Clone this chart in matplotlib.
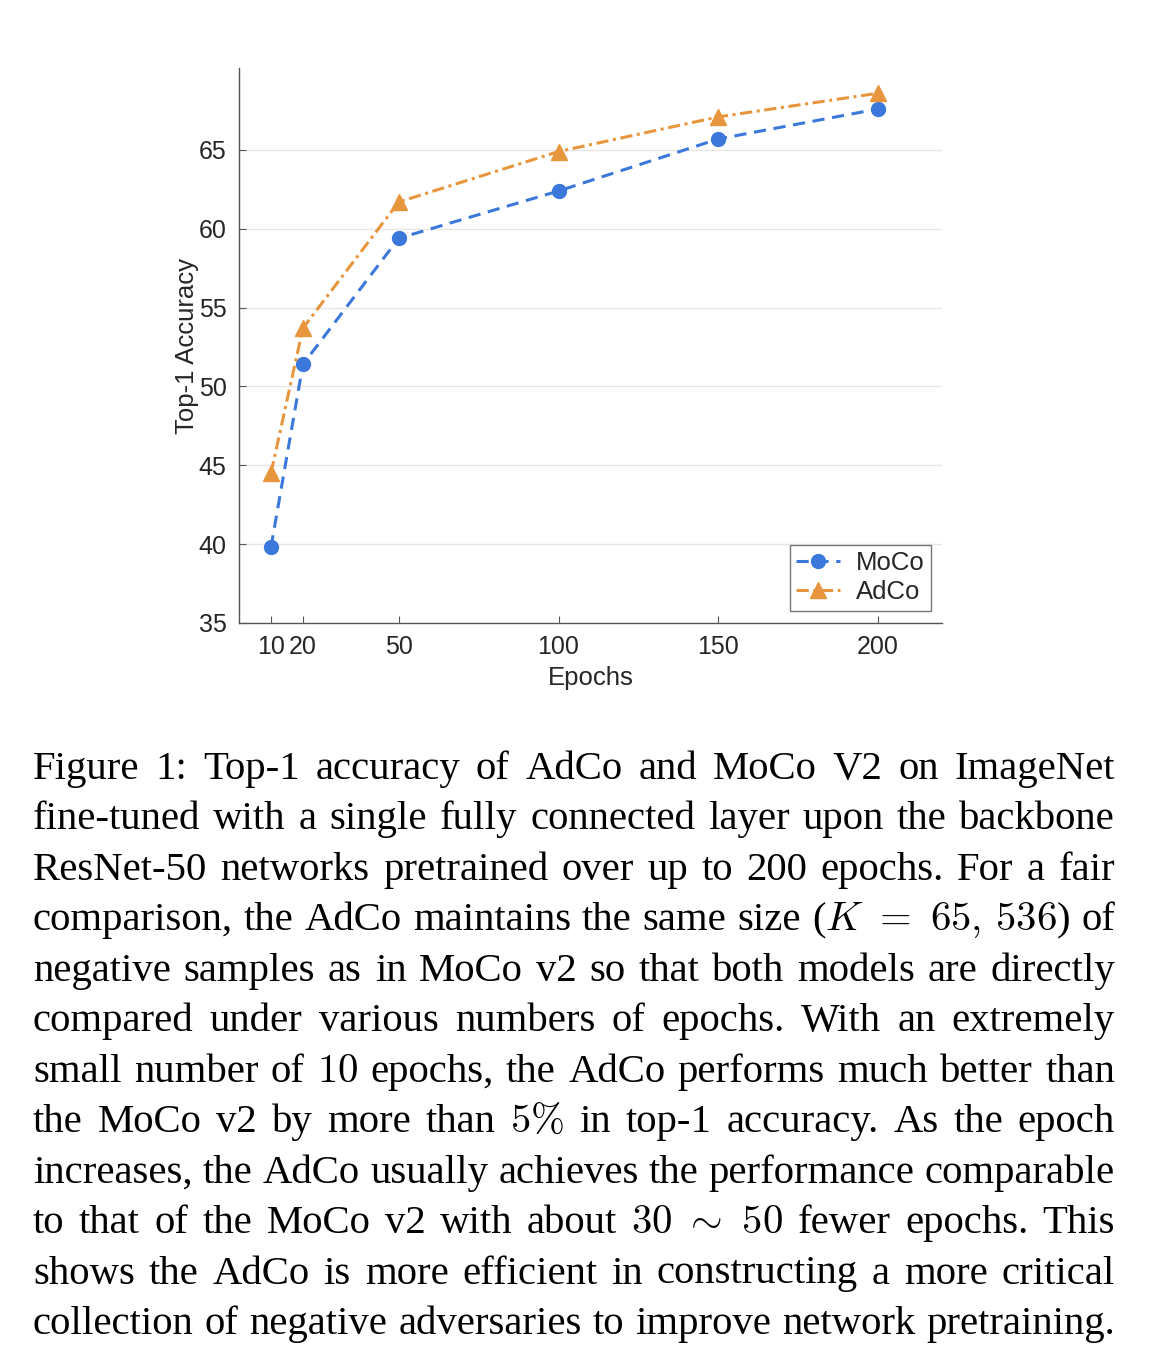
import re
import numpy as np
import matplotlib
matplotlib.use('Agg')
import matplotlib.pyplot as plt

blue = '#3B78DB'
orange = '#E8963D'

epochs = [10, 20, 50, 100, 150, 200]
moco = [39.8, 51.4, 59.4, 62.4, 65.7, 67.6]
adco = [44.5, 53.7, 61.7, 64.9, 67.1, 68.6]
yticks = [35, 40, 45, 50, 55, 60, 65]

caption = [
    "Figure 1:  Top-1 accuracy of AdCo and MoCo V2 on ImageNet",
    "fine-tuned with a single fully connected layer upon the backbone",
    "ResNet-50 networks pretrained over up to 200 epochs. For a fair",
    r"comparison, the AdCo maintains the same size ($K\ =\ 65,\,536$) of",
    "negative samples as in MoCo v2 so that both models are directly",
    "compared under various numbers of epochs.  With an extremely",
    r"small number of $10$ epochs, the AdCo performs much better than",
    r"the MoCo v2 by more than $5\%$ in top-1 accuracy.  As the epoch",
    "increases, the AdCo usually achieves the performance comparable",
    r"to that of the MoCo v2 with about $30\ \sim\ 50$ fewer epochs.  This",
    "shows the AdCo is more efficient in constructing a more critical",
    "collection of negative adversaries to improve network pretraining.",
]

plt.rcParams['mathtext.fontset'] = 'cm'
W, H = 1168, 1356
fig = plt.figure(figsize=(W / 100, H / 100), dpi=100)

# Chart
ax = fig.add_axes([239 / W, 1 - 623 / H, (942 - 239) / W, (623 - 68) / H])
sans = 'Liberation Sans'
ax.plot(epochs, moco, linestyle=(0, (4, 2.5)), color=blue, lw=2.2, marker='o', ms=10, label='MoCo')
ax.plot(epochs, adco, linestyle=(0, (4, 1.5, 1, 1.5)), color=orange, lw=2.2, marker='^', ms=11, label='AdCo')
ax.set_xlim(0, 220)
ax.set_ylim(35, 70.2)
ax.set_xticks(epochs)
ax.set_yticks(yticks)
ax.grid(axis='y', color='#e6e6e6', lw=1)
ax.set_axisbelow(True)
for s in ['top', 'right']:
    ax.spines[s].set_visible(False)
for s in ['left', 'bottom']:
    ax.spines[s].set_color('#555555')
    ax.spines[s].set_linewidth(1)
ax.tick_params(direction='in', length=5, color='#555555', labelsize=18, labelcolor='#262626', pad=9)
for lab in ax.get_xticklabels() + ax.get_yticklabels():
    lab.set_family(sans)
ax.set_xlabel('Epochs', family=sans, fontsize=18.5, color='#262626', labelpad=5)
ax.set_ylabel('Top-1 Accuracy', family=sans, fontsize=18.5, color='#262626', labelpad=0)
leg = ax.legend(loc='lower right', bbox_to_anchor=(0.984, 0.022), prop={'family': sans, 'size': 18.5},
                fancybox=False, edgecolor='#777777', framealpha=1, handlelength=1.7,
                borderpad=0.25, labelspacing=0.2, handletextpad=0.6, borderaxespad=0)
leg.get_frame().set_linewidth(1)
for t in leg.get_texts():
    t.set_color('#262626')

# Caption, justified
serif = 'Liberation Serif'
left, right = 33, 1115
base0, step = 779, 50.45
renderer = fig.canvas.get_renderer()
tok_re = re.compile(r'\S*\$[^$]*\$\S*|\S+')


def widths(words, size):
    out = []
    for w in words:
        t = fig.text(0, 0, w, family=serif, fontsize=size)
        out.append(t.get_window_extent(renderer).width)
        t.remove()
    return out


lines = [tok_re.findall(l) for l in caption]
ref = 10
sp = widths(['a a'], ref)[0] - 2 * widths(['a'], ref)[0]
nat = [sum(widths(ws, ref)) + (len(ws) - 1) * sp for ws in lines]
fs = ref * (right - left) / max(nat)
for i, ws in enumerate(lines):
    wd = widths(ws, fs)
    gap = (right - left - sum(wd)) / (len(ws) - 1)
    x = left
    y = 1 - (base0 + i * step) / H
    for w, d in zip(ws, wd):
        fig.text(x / W, y, w, family=serif, fontsize=fs, va='baseline', ha='left', color='black')
        x += d + gap

fig.savefig('out.png', dpi=100)
